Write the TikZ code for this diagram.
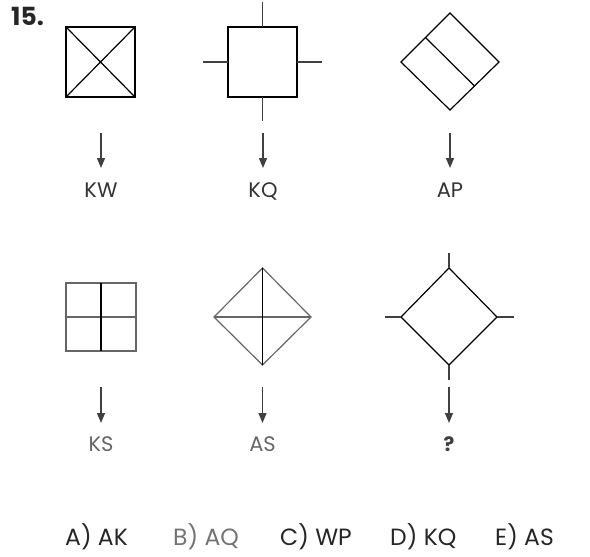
\documentclass[tikz,border=0pt]{standalone}
\usepackage{fontspec}
\setmainfont{Poppins}
\usetikzlibrary{arrows.meta}
\begin{document}
\begin{tikzpicture}[x=1pt,y=-1pt,
  figline/.style={line width=1.2pt,draw=black},
  grayline/.style={line width=1.2pt,draw=black!60},
  tickline/.style={line width=1.2pt,draw=black!75},
  arr/.style={line width=1.3pt,draw=black!75,-{Triangle[width=8pt,length=10pt]}},
  lbl/.style={anchor=base,inner sep=0pt,font=\fontsize{21}{24}\selectfont,text=black!80},
  opt/.style={anchor=base west,inner sep=0pt,font=\fontsize{23.5}{27}\selectfont,text=black!85}]
\useasboundingbox (0,0) rectangle (590,557);
% title
\node[anchor=base west,inner sep=0pt,font=\fontsize{25}{28}\bfseries\selectfont,text=black!85] (num) at (11,25) {15.};
% figure 1: square with X
\draw[figline] (66,27) rectangle (135,97);
\draw[figline] (66,27) -- (135,97) (135,27) -- (66,97);
% figure 2: square with ticks
\draw[figline] (228,27) rectangle (297,97);
\draw[tickline] (262.5,2) -- (262.5,27) (262.5,97) -- (262.5,121)
  (203,62) -- (228,62) (297,62) -- (322,62);
% figure 3: diamond with line
\draw[figline] (450,13) -- (499,62) -- (450,110) -- (401,62) -- cycle;
\draw[figline] (425.5,37.5) -- (474.5,86);
% figure 4: square with cross
\draw[grayline] (66,283) rectangle (136,351);
\draw[grayline] (66,317) -- (136,317);
\draw[figline] (101,283) -- (101,351);
% figure 5: diamond with cross
\draw[grayline] (262.5,268) -- (311,317) -- (262.5,365) -- (214,317) -- cycle;
\draw[grayline] (214,317) -- (311,317);
\draw[figline] (262.5,268) -- (262.5,365);
% figure 6: diamond with ticks
\draw[figline] (449,268) -- (497,317) -- (449,365) -- (401,317) -- cycle;
\draw[tickline] (449,253) -- (449,268) (449,365) -- (449,380)
  (385,317) -- (401,317) (497,317) -- (514,317);
% arrows
\coordinate (a1s) at (101,133); \coordinate (a1e) at (101,168);
\coordinate (a2s) at (263,133); \coordinate (a2e) at (263,168);
\coordinate (a3s) at (450,133); \coordinate (a3e) at (450,168);
\coordinate (a4s) at (101,387); \coordinate (a4e) at (101,423);
\coordinate (a5s) at (262.5,387); \coordinate (a5e) at (262.5,423);
\coordinate (a6s) at (449,387); \coordinate (a6e) at (449,423);
\draw[arr] (a1s) -- (a1e);
\draw[arr] (a2s) -- (a2e);
\draw[arr] (a3s) -- (a3e);
\draw[arr] (a4s) -- (a4e);
\draw[arr] (a5s) -- (a5e);
\draw[arr] (a6s) -- (a6e);
% labels
\node[lbl] (l1) at (101,197) {KW};
\node[lbl] (l2) at (263,197) {KQ};
\node[lbl] (l3) at (450,197) {AP};
\node[lbl,text=black!60] (l4) at (101,451) {KS};
\node[lbl,text=black!60] (l5) at (262.5,451) {AS};
\node[lbl,font=\fontsize{20}{23}\bfseries\selectfont,text=black!75] (l6) at (449,451) {?};
% options
\node[opt] (oa) at (65,545) {A) AK};
\node[opt,text=black!55] (ob) at (173,545) {B) AQ};
\node[opt] (oc) at (280,545) {C) WP};
\node[opt] (od) at (390,545) {D) KQ};
\node[opt] (oe) at (495,545) {E) AS};
\end{tikzpicture}
\end{document}
